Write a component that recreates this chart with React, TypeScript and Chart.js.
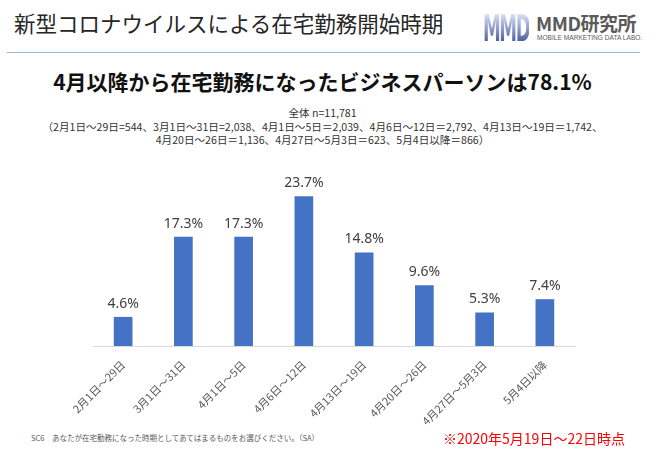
import React, { useEffect, useRef } from "react";
import { Chart, registerables } from "chart.js";

Chart.register(...registerables);

const categories = [
  "2月1日～29日",
  "3月1日～31日",
  "4月1日～5日",
  "4月6日～12日",
  "4月13日～19日",
  "4月20日～26日",
  "4月27日～5月3日",
  "5月4日以降",
];
const shares = [4.6, 17.3, 17.3, 23.7, 14.8, 9.6, 5.3, 7.4];

const titleText = "新型コロナウイルスによる在宅勤務開始時期";
const headline = "4月以降から在宅勤務になったビジネスパーソンは78.1%";
const noteLines = [
  "全体 n=11,781",
  "（2月1日～29日=544、3月1日～31日=2,038、4月1日～5日＝2,039、4月6日～12日＝2,792、4月13日～19日＝1,742、",
  "4月20日～26日＝1,136、4月27日～5月3日＝623、5月4日以降＝866）",
];
const footerQuestion = "SC6　あなたが在宅勤務になった時期としてあてはまるものをお選びください。（SA）";
const footerDate = "※2020年5月19日～22日時点";

const JP = '"Noto Sans CJK JP", "Noto Sans", sans-serif';

const valueLabels = {
  id: "valueLabels",
  afterDatasetsDraw(chart: any) {
    const ctx = chart.ctx;
    const meta = chart.getDatasetMeta(0);
    ctx.save();
    ctx.font = '14px "Noto Sans", sans-serif';
    ctx.fillStyle = "#404040";
    ctx.textAlign = "center";
    ctx.textBaseline = "alphabetic";
    meta.data.forEach((bar: any, i: number) => {
      const v = chart.data.datasets[0].data[i];
      ctx.fillText(v.toFixed(1) + "%", bar.x, bar.y - 9);
    });
    ctx.restore();
  },
};

export default function App() {
  const canvasRef = useRef<HTMLCanvasElement | null>(null);

  useEffect(() => {
    document.body.style.margin = "0";
    const chart = new Chart(canvasRef.current as HTMLCanvasElement, {
      type: "bar",
      data: {
        labels: categories,
        datasets: [
          {
            data: shares,
            backgroundColor: "#4472C4",
            borderWidth: 0,
            categoryPercentage: 1,
            barPercentage: 0.31,
          },
        ],
      },
      options: {
        animation: false,
        responsive: false,
        maintainAspectRatio: false,
        layout: { padding: { left: 93, right: 75, top: 19, bottom: 0 } },
        plugins: { legend: { display: false }, tooltip: { enabled: false } },
        scales: {
          x: {
            grid: { display: false, drawTicks: false },
            border: { display: true, color: "#d9d9d9", width: 1 },
            ticks: {
              minRotation: 45,
              maxRotation: 45,
              autoSkip: false,
              padding: 12,
              color: "#595959",
              font: { family: JP, size: 11 },
            },
            afterFit: (scale: any) => {
              scale.height = 84;
            },
          },
          y: {
            display: false,
            min: 0,
            max: 28,
          },
        },
      },
      plugins: [valueLabels],
    });
    return () => chart.destroy();
  }, []);

  return (
    <div
      style={{
        position: "relative",
        width: 650,
        height: 450,
        background: "#fff",
        overflow: "hidden",
        fontFamily: JP,
      }}
    >
      <div
        style={{
          position: "absolute",
          left: 14,
          top: 8,
          fontSize: 21.5,
          lineHeight: "30px",
          color: "#262626",
          whiteSpace: "nowrap",
          fontWeight: 400,
        }}
      >
        {titleText}
      </div>
      {/* logo */}
      <div
        style={{
          position: "absolute",
          left: 483,
          top: 11,
          width: 49,
          height: 34,
          overflow: "hidden",
        }}
      >
        <div
          style={{
            fontFamily: '"DejaVu Sans", sans-serif',
            fontWeight: 700,
            fontSize: 38,
            lineHeight: "34px",
            letterSpacing: -3,
            transform: "scaleX(0.47)",
            transformOrigin: "left top",
            whiteSpace: "nowrap",
            background: "linear-gradient(180deg, #eef0f8 0%, #a3aed6 40%, #3c4d92 100%)",
            WebkitBackgroundClip: "text",
            backgroundClip: "text",
            color: "transparent",
            display: "inline-block",
          }}
        >
          MMD
        </div>
      </div>
      <div
        style={{
          position: "absolute",
          left: 536,
          top: 11,
          fontSize: 19,
          lineHeight: "24px",
          fontWeight: 700,
          color: "#5a5a5a",
          whiteSpace: "nowrap",
          letterSpacing: -0.5,
        }}
      >
        MMD研究所
      </div>
      <div
        style={{
          position: "absolute",
          left: 537,
          top: 34,
          fontSize: 6.6,
          lineHeight: "8px",
          color: "#5a5a5a",
          whiteSpace: "nowrap",
          fontFamily: '"Liberation Sans", sans-serif',
        }}
      >
        MOBILE MARKETING DATA LABO.
      </div>
      <div
        style={{
          position: "absolute",
          left: 7,
          top: 52,
          width: 633,
          height: 1,
          background: "#9db5e0",
        }}
      />
      <div
        style={{
          position: "absolute",
          left: 0,
          width: 645,
          top: 66,
          textAlign: "center",
          fontSize: 21,
          lineHeight: "30px",
          fontWeight: 700,
          color: "#111",
          whiteSpace: "nowrap",
        }}
      >
        {headline}
      </div>
      <div
        style={{
          position: "absolute",
          left: 0,
          width: 645,
          top: 106,
          textAlign: "center",
          fontSize: 10.6,
          lineHeight: "13.5px",
          color: "#333",
          whiteSpace: "nowrap",
        }}
      >
        {noteLines.map((l, i) => (
          <div key={i}>{l}</div>
        ))}
      </div>
      <canvas
        ref={canvasRef}
        width={650}
        height={280}
        style={{ position: "absolute", left: 0, top: 150, width: 650, height: 280 }}
      />
      <div
        style={{
          position: "absolute",
          left: 31,
          top: 433,
          fontSize: 7.5,
          lineHeight: "10px",
          color: "#595959",
          whiteSpace: "nowrap",
        }}
      >
        {footerQuestion}
      </div>
      <div
        style={{
          position: "absolute",
          left: 443,
          top: 428,
          fontSize: 14,
          lineHeight: "20px",
          color: "#ff0000",
          whiteSpace: "nowrap",
        }}
      >
        {footerDate}
      </div>
    </div>
  );
}
